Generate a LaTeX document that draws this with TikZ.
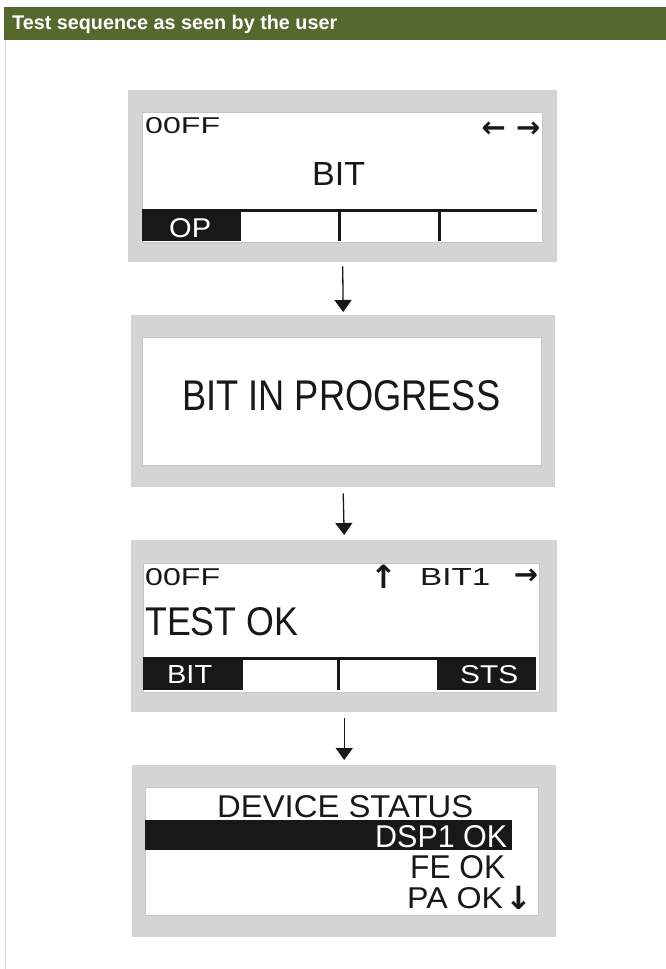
\documentclass[tikz,border=0pt]{standalone}
\usepackage{fontspec}
\setmainfont{Liberation Sans}
\newfontfamily\lcd{Liberation Sans}
\newfontfamily\arrowfont{DejaVu Sans}
\usetikzlibrary{arrows.meta}
\definecolor{hdrgreen}{RGB}{85,105,46}
\definecolor{panelgrey}{RGB}{211,213,212}
\definecolor{innerline}{RGB}{196,198,197}
\definecolor{edgegrey}{RGB}{215,215,215}
\definecolor{lcdink}{RGB}{24,24,24}
\newcommand{\lcdfit}[3]{\resizebox{#1pt}{#2pt}{\lcd #3}}
\begin{document}
\begin{tikzpicture}[x=1pt,y=-1pt,
  panel/.style={fill=panelgrey, draw=none, inner sep=0pt, anchor=north west},
  screen/.style={fill=white, draw=innerline, line width=0.8pt},
  lcdtext/.style={inner sep=0pt, anchor=base west, text=lcdink},
  lcdinv/.style={inner sep=0pt, anchor=base west, text=white},
  harrow/.style={inner sep=0pt, text=lcdink, font=\arrowfont\bfseries\fontsize{29}{29}\selectfont},
  varrow/.style={inner sep=0pt, text=lcdink, font=\arrowfont\bfseries\fontsize{32}{32}\selectfont},
  conn/.style={line width=1.3pt, draw=lcdink, -{Triangle[width=17pt,length=12pt]}}
]
\useasboundingbox (0,0) rectangle (666,969);
\fill[white] (0,0) rectangle (666,969);
% header
\fill[hdrgreen] (4,7) rectangle (666,40);
\node[anchor=base west, inner sep=0pt, text=white] (title) at (12,29) {\resizebox{325pt}{!}{\bfseries Test sequence as seen by the user}};
\draw[edgegrey, line width=1pt] (5,40) -- (5,969);

% panel 1
\node[panel, minimum width=429pt, minimum height=172pt] (p1) at (128,90) {};
\draw[screen] (142,112) rectangle (542,242);
\node[lcdtext] (p1code) at (145,133) {\lcdfit{75}{16}{00FF}};
\node[harrow] (p1arrows) at (511,130) {← →};
\node[lcdtext] (p1title) at (312,185) {\lcdfit{53}{23}{BIT}};
\fill[lcdink] (142,209) rectangle (537,212);
\fill[lcdink] (142,210) rectangle (241,241);
\fill[lcdink] (337.5,210) rectangle (340.5,241);
\fill[lcdink] (437.5,210) rectangle (440.5,241);
\node[lcdinv] (p1op) at (169,237) {\lcdfit{42}{19}{OP}};

% panel 2
\node[panel, minimum width=424pt, minimum height=172pt] (p2) at (131,315) {};
\draw[screen] (142,337) rectangle (541,465);
\node[lcdtext] (p2text) at (182,410) {\lcdfit{318}{30}{BIT IN PROGRESS}};

% panel 3
\node[panel, minimum width=426pt, minimum height=172pt] (p3) at (131,540) {};
\draw[screen] (143,563) rectangle (539,692);
\node[lcdtext] (p3code) at (145,585) {\lcdfit{75}{17}{00FF}};
\node[varrow] (p3up) at (384,577) {↑};
\node[lcdtext] (p3bit) at (420,585) {\lcdfit{70}{17}{BIT1}};
\node[harrow] (p3right) at (526,577) {→};
\node[lcdtext] (p3test) at (145,635) {\lcdfit{153}{28}{TEST OK}};
\fill[lcdink] (143,657) rectangle (536,660);
\fill[lcdink] (143,658) rectangle (243,690);
\fill[lcdink] (437,658) rectangle (536,690);
\fill[lcdink] (337,658) rectangle (340,690);
\node[lcdinv] (p3bitkey) at (167,683) {\lcdfit{45}{18}{BIT}};
\node[lcdinv] (p3sts) at (460,683) {\lcdfit{58}{18}{STS}};

% panel 4
\node[panel, minimum width=424pt, minimum height=172pt] (p4) at (132,765) {};
\draw[screen] (145,787) rectangle (538,915);
\node[lcdtext] (p4head) at (217,817) {\lcdfit{256}{22}{DEVICE STATUS}};
\fill[lcdink] (145,820) rectangle (512,850);
\node[lcdinv] (p4dsp) at (375,847) {\lcdfit{132}{22}{DSP1 OK}};
\node[lcdtext] (p4fe) at (410,878) {\lcdfit{95}{23}{FE OK}};
\node[lcdtext] (p4pa) at (407,908) {\lcdfit{96}{21}{PA OK}};
\node[varrow] (p4down) at (519,898) {↓};

% connectors
\draw[conn] ([yshift=-4pt]p1.south) -- ([yshift=3pt]p2.north);
\draw[conn] ([yshift=-6pt]p2.south) -- ([yshift=5pt]p3.north);
\draw[conn] ([yshift=-6pt]p3.south) -- ([yshift=5pt]p4.north);
\end{tikzpicture}
\end{document}
